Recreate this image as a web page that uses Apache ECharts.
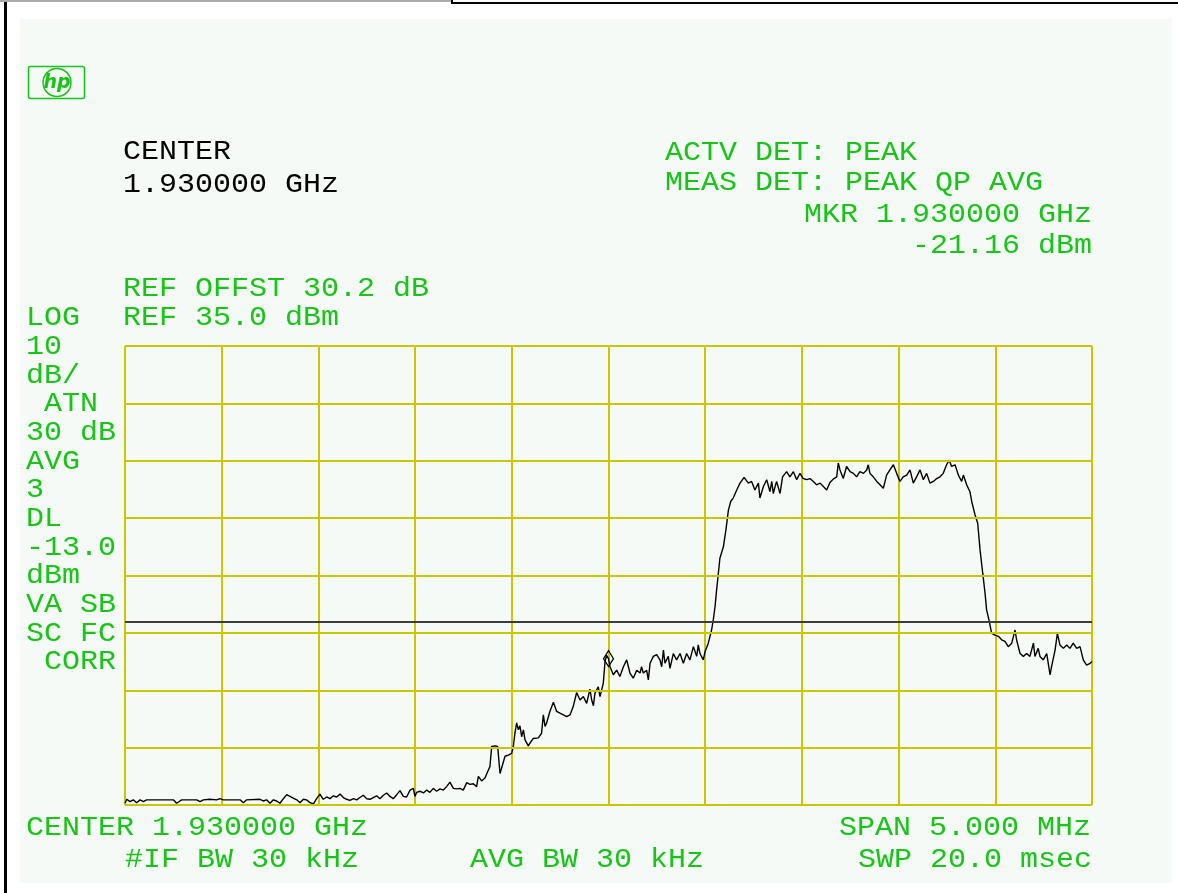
<!DOCTYPE html>
<html><head><meta charset="utf-8">
<script src="https://cdn.jsdelivr.net/npm/echarts@6/dist/echarts.min.js"></script>
<style>html,body{margin:0;padding:0;background:#fff;}#c{width:1178px;height:893px;}</style>
</head><body><div id="c"></div>
<script>
// ---------------- DATA ----------------
const traceFreqMHz = [
1927.500,1927.509,1927.526,1927.543,1927.560,1927.578,1927.595,1927.612,1927.638,1927.698,
1927.750,1927.767,1927.793,1927.871,1927.888,1927.905,1927.939,1927.974,1927.991,1928.008,
1928.095,1928.112,1928.129,1928.198,1928.215,1928.232,1928.250,1928.267,1928.284,1928.301,
1928.319,1928.336,1928.353,1928.370,1928.388,1928.405,1928.422,1928.439,1928.457,1928.474,
1928.491,1928.508,1928.525,1928.543,1928.560,1928.577,1928.594,1928.612,1928.629,1928.646,
1928.663,1928.681,1928.698,1928.715,1928.732,1928.750,1928.767,1928.784,1928.801,1928.818,
1928.836,1928.853,1928.870,1928.887,1928.905,1928.922,1928.939,1928.956,1928.974,1928.991,
1928.999,1929.008,1929.025,1929.043,1929.060,1929.077,1929.094,1929.111,1929.129,1929.146,
1929.163,1929.180,1929.198,1929.215,1929.232,1929.249,1929.267,1929.284,1929.301,1929.318,
1929.327,1929.344,1929.361,1929.370,1929.379,1929.387,1929.396,1929.413,1929.427,1929.439,
1929.453,1929.465,1929.482,1929.499,1929.508,1929.516,1929.525,1929.534,1929.542,1929.551,
1929.560,1929.568,1929.585,1929.594,1929.611,1929.637,1929.654,1929.663,1929.672,1929.680,
1929.697,1929.715,1929.732,1929.749,1929.784,1929.801,1929.818,1929.835,1929.853,1929.870,
1929.887,1929.904,1929.913,1929.922,1929.930,1929.947,1929.956,1929.973,1929.982,1929.990,
1930.000,
1930.008,1930.025,1930.042,1930.059,1930.077,1930.094,1930.111,1930.128,1930.146,1930.163,
1930.171,1930.180,1930.197,1930.206,1930.215,1930.232,1930.249,1930.266,1930.275,1930.284,
1930.292,1930.309,1930.318,1930.335,1930.352,1930.370,1930.387,1930.404,1930.421,1930.439,
1930.456,1930.464,1930.473,1930.490,1930.499,1930.516,1930.533,1930.542,1930.551,1930.559,
1930.568,1930.576,1930.594,1930.607,1930.620,1930.632,1930.645,1930.663,1930.680,1930.701,
1930.723,1930.740,1930.757,1930.775,1930.783,1930.801,1930.818,1930.835,1930.844,1930.852,
1930.869,1930.887,1930.900,1930.921,1930.938,1930.956,1930.973,1930.990,1931.007,1931.025,
1931.042,1931.059,1931.076,1931.094,1931.111,1931.128,1931.145,1931.162,1931.180,1931.188,
1931.197,1931.214,1931.231,1931.249,1931.266,1931.283,1931.300,1931.318,1931.335,1931.343,
1931.352,1931.369,1931.387,1931.404,1931.421,1931.438,1931.455,1931.473,1931.490,1931.507,
1931.524,1931.542,1931.559,1931.576,1931.593,1931.611,1931.628,1931.645,1931.662,1931.680,
1931.697,1931.714,1931.731,1931.748,1931.762,1931.774,1931.792,1931.809,1931.826,1931.835,
1931.852,1931.869,1931.878,1931.895,1931.909,1931.921,1931.935,1931.947,1931.955,1931.969,
1931.981,1931.998,1932.016,1932.033,1932.050,1932.067,1932.085,1932.102,1932.110,1932.128,
1932.145,1932.162,1932.179,1932.197,1932.205,1932.222,1932.231,1932.248,1932.266,1932.283,
1932.291,1932.309,1932.321,1932.334,1932.352,1932.369,1932.386,1932.403,1932.421,1932.438,
1932.455,1932.472,1932.490,1932.500
];
const traceLevelDbm = [
-44.7,-44.0,-44.4,-44.1,-44.6,-44.1,-44.4,-44.1,-44.1,-44.1,
-44.1,-44.7,-44.1,-44.1,-44.4,-44.1,-44.0,-44.1,-43.9,-44.1,
-44.1,-44.6,-44.1,-44.0,-44.3,-44.1,-44.7,-44.1,-44.3,-44.7,
-43.9,-43.2,-43.5,-43.8,-44.1,-44.6,-44.0,-44.1,-44.6,-44.8,
-43.9,-43.1,-44.0,-43.6,-43.9,-43.4,-43.6,-43.1,-43.7,-44.0,
-44.2,-43.9,-44.1,-43.7,-43.3,-43.9,-44.0,-43.7,-43.4,-43.9,
-43.3,-42.9,-43.5,-43.9,-43.2,-42.5,-43.5,-43.6,-42.4,-42.1,
-43.5,-42.8,-42.6,-42.9,-42.4,-42.8,-42.1,-42.6,-42.2,-42.4,
-41.8,-41.0,-42.1,-42.2,-42.1,-42.4,-41.1,-41.4,-41.3,-41.8,
-40.0,-40.8,-40.3,-39.6,-39.9,-38.3,-34.8,-34.7,-34.8,-39.5,
-37.9,-36.5,-36.3,-36.0,-34.8,-32.5,-30.7,-31.9,-31.2,-33.1,
-31.9,-33.6,-34.7,-34.2,-33.4,-33.3,-32.5,-29.3,-31.3,-30.7,
-28.7,-27.1,-28.7,-29.0,-29.6,-29.3,-27.8,-25.4,-26.7,-26.1,
-27.3,-24.8,-26.7,-27.7,-25.5,-24.4,-26.1,-23.8,-20.0,-18.9,
-19.5,
-20.9,-22.3,-21.5,-22.6,-20.9,-19.7,-22.0,-22.9,-21.5,-22.0,
-20.9,-22.0,-21.5,-23.2,-20.3,-19.1,-18.8,-19.7,-20.9,-18.0,
-20.3,-19.1,-21.2,-18.6,-19.7,-18.6,-20.3,-18.6,-19.7,-17.4,
-19.1,-17.1,-18.6,-19.7,-18.3,-16.8,-14.5,-12.7,-10.4,-7.5,
-4.6,-2.0,0.0,2.9,6.4,7.9,8.5,9.9,11.1,12.1,
11.1,11.4,9.9,11.1,8.5,10.5,11.7,9.6,11.4,9.3,
11.4,9.3,12.2,13.1,12.2,13.1,11.7,12.8,11.9,11.7,
11.9,11.4,10.8,11.1,10.5,9.9,11.2,11.8,12.2,14.6,
13.4,11.9,14.0,13.1,12.8,12.2,13.1,12.8,13.4,14.3,
12.8,12.2,11.4,10.8,10.2,12.5,13.4,14.3,12.8,11.4,
12.2,12.5,13.4,11.1,12.2,13.4,11.7,12.8,11.1,11.4,
11.9,12.2,12.8,14.3,15.1,14.0,14.3,12.5,11.4,12.5,
10.8,9.6,7.9,5.6,4.1,-0.5,-4.6,-8.1,-11.0,-13.0,
-15.1,-15.4,-15.6,-16.2,-16.5,-17.4,-16.8,-14.5,-16.2,-18.6,
-19.1,-18.6,-19.1,-16.8,-19.1,-17.7,-19.1,-19.7,-18.6,-22.3,
-20.9,-18.0,-15.1,-17.1,-17.7,-17.1,-17.7,-16.8,-17.7,-17.4,
-19.7,-20.6,-20.3,-20.0
];
const freqMinMHz = 1927.5, freqMaxMHz = 1932.5, freqDivMHz = 0.5;
const levelGridDbm = [35, 25, 15, 5, -5, -15, -25, -35, -45];
const displayLineDbm = -13.0;
const markerPoint = [1930.000, -19.5];

const headerText = ['CENTER', '1.930000 GHz'];
const detectorText = ['ACTV DET: PEAK', 'MEAS DET: PEAK QP AVG'];
const markerText = ['MKR 1.930000 GHz', '-21.16 dBm'];
const refText = ['REF OFFST 30.2 dB', 'REF 35.0 dBm'];
const sideText = ['LOG', '10', 'dB/', ' ATN', '30 dB', 'AVG', '3', 'DL', '-13.0', 'dBm', 'VA SB', 'SC FC', ' CORR'];
const footerText = ['CENTER 1.930000 GHz', '#IF BW 30 kHz', 'AVG BW 30 kHz', 'SPAN 5.000 MHz', 'SWP 20.0 msec'];

// ---------------- LAYOUT / STYLE ----------------
const GREEN = '#17c417';
const GRIDC = '#c9c700';
const MINT = '#f5faf6';
const FONT = '30px "Liberation Mono", "DejaVu Sans Mono", monospace';
const SY = 0.92;
const DY = 2;
function txt(s, x, cy, color, align) {
  return {type: 'text', x: x, y: cy + DY, scaleY: SY, z: 20, silent: true,
    style: {text: s, fill: color, font: FONT, textAlign: align || 'left', textVerticalAlign: 'middle',
            align: align || 'left', verticalAlign: 'middle'}};
}
const g = [];
g.push({type: 'rect', z: -100, silent: true, shape: {x: 20, y: 19, width: 1152, height: 864}, style: {fill: MINT}});
g.push({type: 'rect', z: -90, silent: true, shape: {x: 4, y: 0, width: 3, height: 893}, style: {fill: '#000'}});
g.push({type: 'rect', z: -90, silent: true, shape: {x: 0, y: 0, width: 451, height: 2}, style: {fill: '#a9a9a9'}});
g.push({type: 'rect', z: -90, silent: true, shape: {x: 451, y: 0, width: 2, height: 4}, style: {fill: '#000'}});
g.push({type: 'rect', z: -90, silent: true, shape: {x: 453, y: 2, width: 725, height: 2}, style: {fill: '#000'}});
// hp logo
g.push({type: 'rect', z: 20, silent: true, shape: {x: 28.5, y: 66.5, width: 56, height: 32, r: 2}, style: {fill: 'none', stroke: GREEN, lineWidth: 1.5}});
g.push({type: 'circle', z: 21, silent: true, shape: {cx: 57, cy: 82.5, r: 14}, style: {fill: MINT, stroke: GREEN, lineWidth: 1.5}});
g.push({type: 'text', z: 22, silent: true, x: 57, y: 83, style: {text: 'hp', fill: GREEN, font: 'italic bold 19px "DejaVu Sans"', textAlign: 'center', textVerticalAlign: 'middle', align: 'center', verticalAlign: 'middle'}});

g.push(txt(headerText[0], 123, 150, '#000'));
g.push(txt(headerText[1], 123, 183, '#000'));
g.push(txt(detectorText[0], 665, 151, GREEN));
g.push(txt(detectorText[1], 665, 181, GREEN));
g.push(txt(markerText[0], 1092, 213, GREEN, 'right'));
g.push(txt(markerText[1], 1092, 244, GREEN, 'right'));
g.push(txt(refText[0], 123, 287, GREEN));
g.push(txt(refText[1], 123, 316, GREEN));
sideText.forEach(function (s, i) { g.push(txt(s, 26, 316 + i * 28.67, GREEN)); });
g.push(txt(footerText[0], 26, 826, GREEN));
g.push(txt(footerText[1], 125, 858, GREEN));
g.push(txt(footerText[2], 470, 858, GREEN));
g.push(txt(footerText[3], 1091, 826, GREEN, 'right'));
g.push(txt(footerText[4], 1092, 858, GREEN, 'right'));

const trace = traceFreqMHz.map(function (f, i) { return [f, traceLevelDbm[i]]; });

const chart = echarts.init(document.getElementById('c'), null, {renderer: 'canvas'});
chart.setOption({
  animation: false,
  backgroundColor: '#ffffff',
  grid: {left: 125, top: 346, width: 967, height: 459, show: false},
  xAxis: {type: 'value', min: freqMinMHz, max: freqMaxMHz, interval: freqDivMHz,
    axisLine: {show: false}, axisTick: {show: false}, axisLabel: {show: false},
    splitLine: {show: true, lineStyle: {color: GRIDC, width: 2}}},
  yAxis: {type: 'value', min: levelGridDbm[levelGridDbm.length - 1], max: levelGridDbm[0],
    axisLine: {show: false}, axisTick: {show: false}, axisLabel: {show: false}, splitLine: {show: false}},
  series: [
    {type: 'line', z: 1, data: [], silent: true,
     markLine: {silent: true, symbol: ['none', 'none'], label: {show: false}, animation: false,
       lineStyle: {color: GRIDC, width: 2, type: 'solid'},
       data: levelGridDbm.map(function (v) { return {yAxis: v}; })}},
    {type: 'line', z: 2, data: [], silent: true,
     markLine: {silent: true, symbol: ['none', 'none'], label: {show: false}, animation: false,
       lineStyle: {color: '#3c3c3c', width: 2, type: 'solid'},
       data: [{yAxis: displayLineDbm}]}},
    {type: 'line', z: 3, data: trace, showSymbol: false, silent: true,
     lineStyle: {color: '#000', width: 1.4},
     markPoint: {silent: true, symbol: 'diamond', symbolSize: [10, 16],
       itemStyle: {color: 'rgba(0,0,0,0)', borderColor: '#000', borderWidth: 1.3},
       label: {show: false}, data: [{coord: markerPoint}]}}
  ],
  graphic: g
});
</script></body></html>
